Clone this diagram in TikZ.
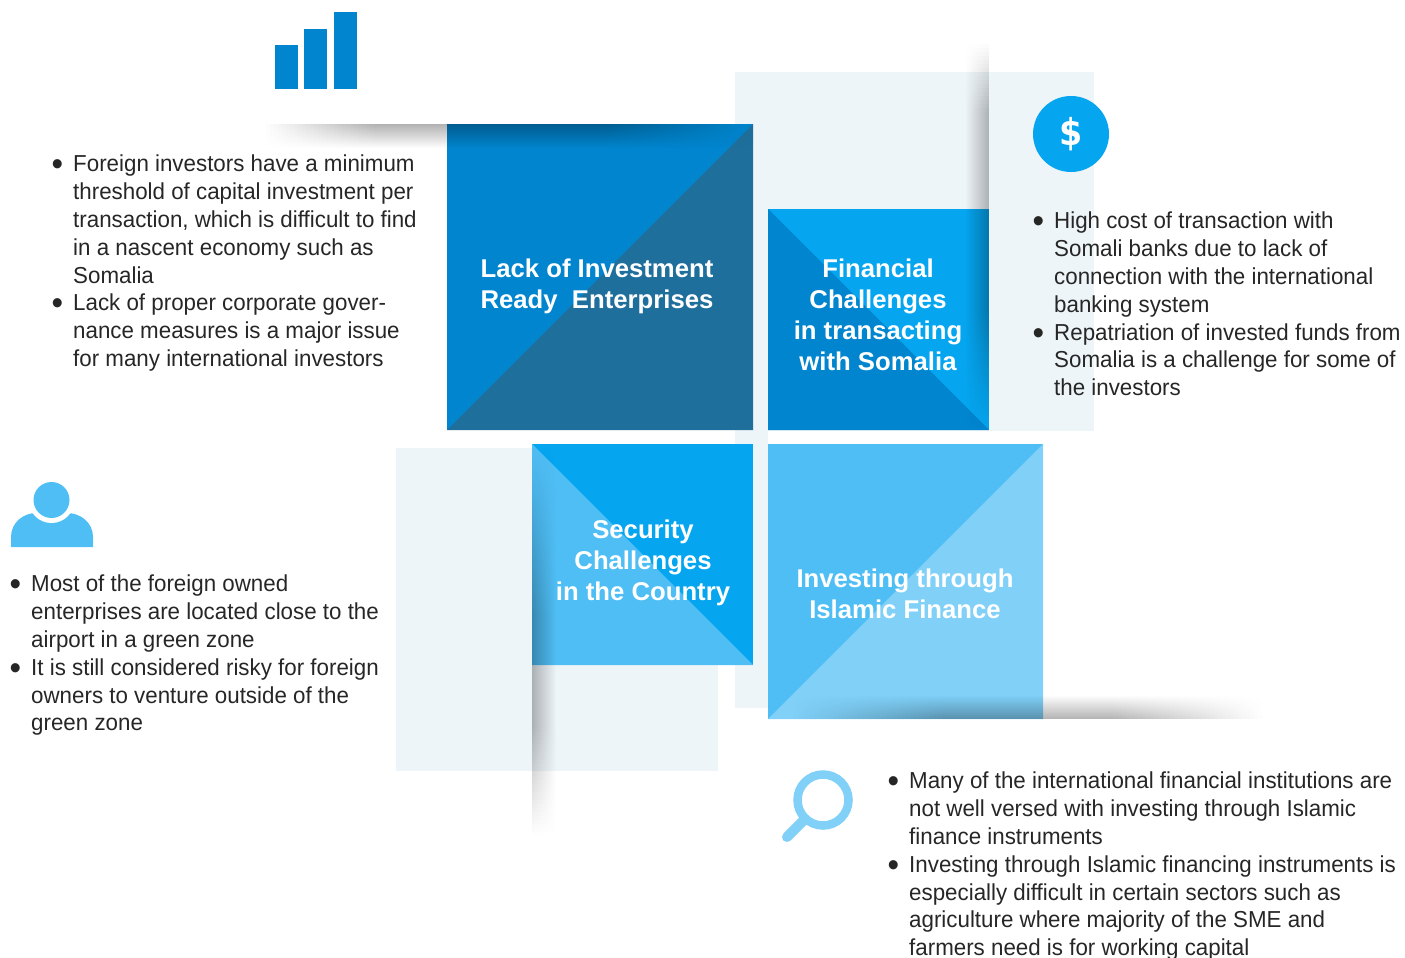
\documentclass[tikz,border=0pt]{standalone}
\usepackage{fontspec}
\setmainfont{Liberation Sans}
\newfontfamily\bodyfont[FakeStretch=0.967]{Liberation Sans}
\newfontfamily\dollarfont[FakeStretch=0.9]{DejaVu Sans}
\usetikzlibrary{fadings}
\definecolor{pale}{HTML}{EEF5F9}
\definecolor{blueA}{HTML}{0085CE}
\definecolor{blueB}{HTML}{1F6F9C}
\definecolor{blueC}{HTML}{05A5EF}
\definecolor{blueD}{HTML}{4FBEF5}
\definecolor{blueE}{HTML}{80D0F8}
\definecolor{ink}{HTML}{262626}
\tikzfading[name=fadeDown,top color=transparent!0,bottom color=transparent!100]
\tikzfading[name=fadeUp,top color=transparent!100,bottom color=transparent!0]
\tikzfading[name=fadeRight,left color=transparent!0,right color=transparent!100]
\tikzfading[name=fadeLeft,left color=transparent!100,right color=transparent!0]
\tikzset{
  bodytext/.style={anchor=north west,align=left,inner sep=0pt,text=ink,font=\bodyfont\fontsize{23.1}{27.87}\selectfont},
  headtext/.style={align=center,inner sep=0pt,text=white,font=\bfseries\fontsize{25.7}{31}\selectfont},
}
\newcommand{\bl}{\makebox[20.5pt][l]{\hspace*{-1pt}\raisebox{-4pt}{\fontsize{34}{27}\selectfont •}}}
\newcommand{\nb}{\hspace*{20.5pt}}
\begin{document}
\begin{tikzpicture}[x=1pt,y=-1pt]
\useasboundingbox (0,0) rectangle (1405,958);
% pale backgrounds
\fill[pale] (735,72) rectangle (1094,431);
\fill[pale] (735,431) rectangle (768,708);
\fill[pale] (396,448) rectangle (718,771);
% box 1
\fill[blueA] (447,124) rectangle (753,430);
\fill[blueB] (753,124) -- (753,430) -- (447,430) -- cycle;
% box 2
\fill[blueC] (768,209) rectangle (989,430);
\fill[blueA] (768,209) -- (768,430) -- (989,430) -- cycle;
% box 3
\fill[blueC] (532,444) rectangle (753,665);
\fill[blueD] (532,444) -- (532,665) -- (753,665) -- cycle;
% box 4
\fill[blueD] (768,444) rectangle (1043,719);
\fill[blueE] (1043,444) -- (1043,719) -- (768,719) -- cycle;
% shadow A: top of box 1
\foreach \x in {262,266,...,750}{
  \pgfmathsetmacro{\op}{0.30*min(1,(\x-262)/110)*min(1,(754-\x)/150)}
  \fill[black,fill opacity=\op,path fading=fadeDown] (\x,124) rectangle (\x+4,148);
}
% shadow B: right side of box 2
\foreach \y in {40,44,...,428}{
  \pgfmathsetmacro{\op}{0.28*min(1,(\y-40)/70)*min(1,(430-\y)/120)}
  \fill[black,fill opacity=\op,path fading=fadeLeft] (965,\y) rectangle (989,\y+4);
}
% shadow C: left side of box 3
\foreach \y in {444,448,...,832}{
  \pgfmathsetmacro{\op}{0.28*min(1,(\y-444)/170)*min(1,(834-\y)/110)}
  \fill[black,fill opacity=\op,path fading=fadeRight] (532,\y) rectangle (556,\y+4);
}
% shadow D: bottom of box 4
\foreach \x in {790,794,...,1258}{
  \pgfmathsetmacro{\op}{0.30*min(1,(\x-790)/150)*min(1,(1262-\x)/150)}
  \fill[black,fill opacity=\op,path fading=fadeUp] (\x,695) rectangle (\x+4,719);
}
% icons
\fill[blueA] (275,45) rectangle (298,89);
\fill[blueA] (304,29) rectangle (327,89);
\fill[blueA] (334,12) rectangle (357,89);
\fill[blueC] (1071,134) circle (38);
\node[text=white,inner sep=0pt,font=\dollarfont\bfseries\fontsize{37}{37}\selectfont] (dollar) at (1071,134) {\$};
\fill[blueD] (11,547) -- (11,537) .. controls (11,522) and (24,513) .. (36,513) -- (67,513) .. controls (80,513) and (93,522) .. (93,537) -- (93,547) -- cycle;
\fill[white] (51.5,500) circle (23);
\fill[blueD] (51.5,500) circle (18);
\draw[blueE,line width=8.5pt] (823,800) circle (25.5);
\draw[blueE,line width=10pt,line cap=round] (805,819) -- (787,837);
% headings
\node[headtext] (h1) at (597,286) {Lack of Investment\\Ready\ \ Enterprises};
\node[headtext] (h2) at (878,315) {Financial\\Challenges\\in transacting\\with Somalia};
\node[headtext] (h3) at (643,563) {Security\\Challenges\\in the Country};
\node[headtext] (h4) at (905,594) {Investing through\\Islamic Finance};
% body text
\node[bodytext] (t1) at (52.5,154.6) {\bl Foreign investors have a minimum\\\nb threshold of capital investment per\\\nb transaction, which is difficult to find\\\nb in a nascent economy such as\\\nb Somalia\\\bl Lack of proper corporate gover-\\\nb nance measures is a major issue\\\nb for many international investors};
\node[bodytext] (t2) at (1033.5,211.6) {\bl High cost of transaction with\\\nb Somali banks due to lack of\\\nb connection with the international\\\nb banking system\\\bl Repatriation of invested funds from\\\nb Somalia is a challenge for some of\\\nb the investors};
\node[bodytext] (t3) at (10.5,574.6) {\bl Most of the foreign owned\\\nb enterprises are located close to the\\\nb airport in a green zone\\\bl It is still considered risky for foreign\\\nb owners to venture outside of the\\\nb green zone};
\node[bodytext] (t4) at (888.5,771.6) {\bl Many of the international financial institutions are\\\nb not well versed with investing through Islamic\\\nb finance instruments\\\bl Investing through Islamic financing instruments is\\\nb especially difficult in certain sectors such as\\\nb agriculture where majority of the SME and\\\nb farmers need is for working capital};
\end{tikzpicture}
\end{document}
